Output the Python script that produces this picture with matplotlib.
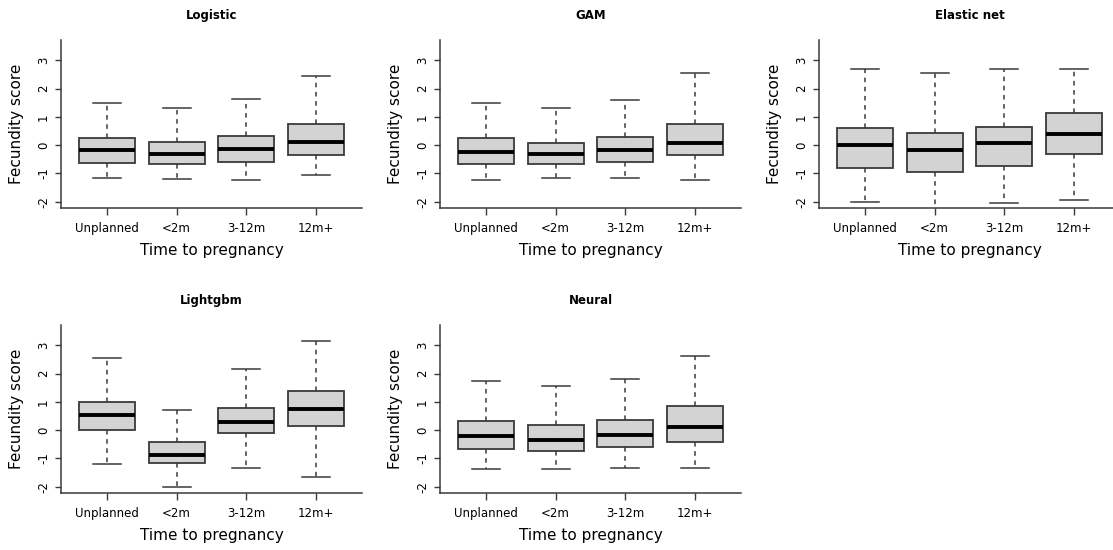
import numpy as np
from matplotlib import pyplot as plt

groups = ["Unplanned", "<2m", "3-12m", "12m+"]
models = ["Logistic", "GAM", "Elastic net", "Lightgbm", "Neural"]

# five-number summaries per model: lower whisker, Q1, median, Q3, upper whisker
logistic_low = [-1.15, -1.19, -1.24, -1.05]
logistic_q1 = [-0.62, -0.68, -0.61, -0.36]
logistic_med = [-0.18, -0.32, -0.14, 0.11]
logistic_q3 = [0.26, 0.12, 0.31, 0.76]
logistic_high = [1.49, 1.33, 1.64, 2.44]

gam_low = [-1.24, -1.16, -1.16, -1.24]
gam_q1 = [-0.65, -0.68, -0.59, -0.36]
gam_med = [-0.25, -0.32, -0.16, 0.09]
gam_q3 = [0.25, 0.09, 0.28, 0.76]
gam_high = [1.51, 1.31, 1.59, 2.55]

enet_low = [-2.02, -2.35, -2.05, -1.92]
enet_q1 = [-0.81, -0.95, -0.73, -0.31]
enet_med = [-0.01, -0.16, 0.09, 0.39]
enet_q3 = [0.60, 0.44, 0.65, 1.14]
enet_high = [2.69, 2.55, 2.69, 2.69]

lgbm_low = [-1.21, -2.00, -1.32, -1.66]
lgbm_q1 = [-0.01, -1.16, -0.11, 0.16]
lgbm_med = [0.54, -0.89, 0.29, 0.74]
lgbm_q3 = [1.00, -0.41, 0.80, 1.38]
lgbm_high = [2.56, 0.73, 2.15, 3.16]

neural_low = [-1.36, -1.36, -1.32, -1.32]
neural_q1 = [-0.65, -0.74, -0.60, -0.40]
neural_med = [-0.21, -0.34, -0.16, 0.12]
neural_q3 = [0.33, 0.20, 0.35, 0.85]
neural_high = [1.75, 1.58, 1.81, 2.64]

summaries = [
    (logistic_low, logistic_q1, logistic_med, logistic_q3, logistic_high),
    (gam_low, gam_q1, gam_med, gam_q3, gam_high),
    (enet_low, enet_q1, enet_med, enet_q3, enet_high),
    (lgbm_low, lgbm_q1, lgbm_med, lgbm_q3, lgbm_high),
    (neural_low, neural_q1, neural_med, neural_q3, neural_high),
]

W, H = 1113, 550
fig = plt.figure(figsize=(W / 100, H / 100), dpi=100)
fig.patch.set_facecolor("white")

col_left = [61, 440, 819]
row_top = [40, 325]
ax_w, ax_h = 301, 168
dark = "#3a3a3a"

for k, (name, summ) in enumerate(zip(models, summaries)):
    r, c = divmod(k, 3)
    left = col_left[c] / W
    bottom = (H - row_top[r] - ax_h) / H
    ax = fig.add_axes([left, bottom, ax_w / W, ax_h / H])

    lo, q1, med, q3, hi = summ
    stats = []
    for i, g in enumerate(groups):
        stats.append(dict(label=g, whislo=lo[i], q1=q1[i], med=med[i],
                          q3=q3[i], whishi=hi[i], fliers=[]))
    ax.bxp(stats, positions=np.arange(1, 5), widths=0.8, capwidths=0.4,
           patch_artist=True, showfliers=False,
           boxprops=dict(facecolor="#d3d3d3", edgecolor=dark, linewidth=1.3),
           whiskerprops=dict(color=dark, linestyle=(0, (3, 3)), linewidth=1.1),
           capprops=dict(color=dark, linewidth=1.1),
           medianprops=dict(color="black", linewidth=2.8))

    ax.set_xlim(0.34, 4.66)
    ax.set_ylim(-2.22, 3.72)
    ax.set_xticks(np.arange(1, 5))
    ax.set_xticklabels(groups, fontsize=8.5, va="baseline")
    ax.set_yticks([-2, -1, 0, 1, 2, 3])
    ax.set_yticklabels(["-2", "-1", "0", "1", "2", "3"], fontsize=8.5,
                       rotation=90, va="center")
    ax.tick_params(axis="x", length=5, width=1, color=dark, pad=12)
    ax.tick_params(axis="y", length=4, width=1, color=dark, pad=4)
    for s in ["top", "right"]:
        ax.spines[s].set_visible(False)
    for s in ["left", "bottom"]:
        ax.spines[s].set_color(dark)
        ax.spines[s].set_linewidth(1.1)
    ax.set_facecolor("white")

    ax.set_title(name, fontsize=8.5, fontweight="bold", pad=15)
    ax.set_xlabel("Time to pregnancy", fontsize=11, labelpad=6)
    ax.set_ylabel("Fecundity score", fontsize=11, labelpad=9)

fig.savefig("out.png", dpi=100)
